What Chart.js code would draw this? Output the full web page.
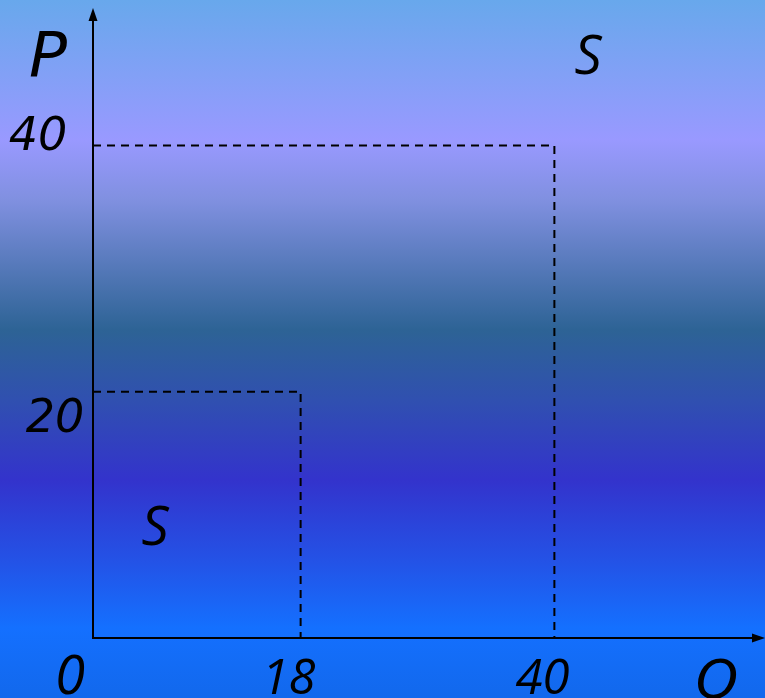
<!DOCTYPE html>
<html>
<head>
<meta charset="utf-8">
<script src="https://cdn.jsdelivr.net/npm/chart.js@4/dist/chart.umd.min.js"></script>
<style>
  body { margin: 0; background: #1268ec; }
  canvas { display: block; }
</style>
</head>
<body>
<canvas id="supplyChart" width="765" height="698"></canvas>
<script>
// values
const priceLevels = [20, 40];
const quantities = [18, 40];
const xTickLabels = ["0", "18", "40"];
const yTickLabels = ["20", "40"];
const axisTitles = { x: "Q", y: "P" };
const areaLabels = ["S", "S"];

document.addEventListener("DOMContentLoaded", () => {
    const canvas = document.getElementById("supplyChart");

    // one dashed corner per price/quantity pair
    const datasets = priceLevels.map((p, i) => ({
        label: "P=" + p,
        data: [{ x: 0, y: p }, { x: quantities[i], y: p }, { x: quantities[i], y: 0 }],
        borderColor: "#000",
        borderWidth: 2,
        borderDash: [8, 6],
        pointRadius: 0,
        fill: false,
        tension: 0
    }));

    const backdrop = {
        id: "backdrop",
        beforeDraw(chart) {
            const ctx = chart.ctx;
            const h = chart.height;
            const g = ctx.createLinearGradient(0, 0, 0, h);
            g.addColorStop(0, "#68a8ec");
            g.addColorStop(140 / h, "#9999ff");
            g.addColorStop(200 / h, "#8090e0");
            g.addColorStop(330 / h, "#2d6395");
            g.addColorStop(400 / h, "#3050b0");
            g.addColorStop(480 / h, "#3333cc");
            g.addColorStop(560 / h, "#2452e6");
            g.addColorStop(628 / h, "#1470ff");
            g.addColorStop(1, "#1268ec");
            ctx.save();
            ctx.fillStyle = g;
            ctx.fillRect(0, 0, chart.width, h);
            ctx.restore();
        }
    };

    const axesAndText = {
        id: "axesAndText",
        afterDraw(chart) {
            const ctx = chart.ctx;
            const xs = chart.scales.x, ys = chart.scales.y;
            const x0 = xs.getPixelForValue(0), y0 = ys.getPixelForValue(0);
            const top = chart.chartArea.top, right = chart.chartArea.right;

            ctx.save();
            ctx.strokeStyle = "#000";
            ctx.fillStyle = "#000";
            ctx.lineWidth = 2;
            ctx.beginPath();
            ctx.moveTo(x0, y0);
            ctx.lineTo(x0, top + 6);
            ctx.moveTo(x0 - 1, y0);
            ctx.lineTo(right - 6, y0);
            ctx.stroke();
            // arrow heads
            ctx.beginPath();
            ctx.moveTo(x0, top - 2);
            ctx.lineTo(x0 - 4.5, top + 11);
            ctx.lineTo(x0 + 4.5, top + 11);
            ctx.closePath();
            ctx.fill();
            ctx.beginPath();
            ctx.moveTo(right + 3, y0);
            ctx.lineTo(right - 10, y0 - 4.5);
            ctx.lineTo(right - 10, y0 + 4.5);
            ctx.closePath();
            ctx.fill();

            ctx.textAlign = "center";
            ctx.textBaseline = "alphabetic";

            // price labels
            ctx.font = "italic 46px 'DejaVu Sans'";
            const yOffsets = [{ dx: -38, dy: 40 }, { dx: -55, dy: 5 }];
            priceLevels.forEach((p, i) => {
                ctx.fillText(yTickLabels[i], x0 + yOffsets[i].dx, ys.getPixelForValue(p) + yOffsets[i].dy);
            });

            // quantity labels
            ctx.font = "italic 54px 'Open Sans'";
            ctx.fillText(xTickLabels[0], x0 - 23, y0 + 56);
            ctx.font = "italic 49px 'Open Sans'";
            quantities.forEach((q, i) => {
                ctx.fillText(xTickLabels[i + 1], xs.getPixelForValue(q) - 12, y0 + 56);
            });

            // axis titles
            ctx.font = "italic 63px 'DejaVu Sans'";
            ctx.fillText(axisTitles.y, x0 - 45, top + 66);
            ctx.font = "italic 54px 'DejaVu Sans'";
            ctx.fillText(axisTitles.x, 717, y0 + 60);

            // area labels
            ctx.font = "italic 54px 'Open Sans'";
            ctx.fillText(areaLabels[0], 588, 74);
            ctx.fillText(areaLabels[1], 155, 545);
            ctx.restore();
        }
    };

    new Chart(canvas, {
        type: "line",
        data: { datasets: datasets },
        options: {
            responsive: false,
            animation: false,
            devicePixelRatio: 1,
            layout: { padding: { left: 93, right: 3, top: 10, bottom: 60 } },
            plugins: {
                legend: { display: false },
                tooltip: { enabled: false }
            },
            scales: {
                x: { type: "linear", min: 0, max: 58, display: false },
                y: { type: "linear", min: 0, max: 51, display: false }
            }
        },
        plugins: [backdrop, axesAndText]
    });
});
</script>
</body>
</html>
